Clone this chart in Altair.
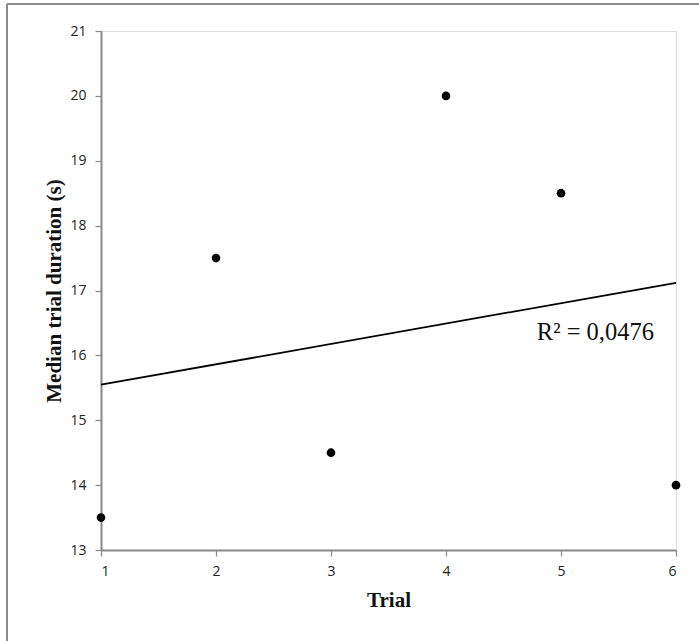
import altair as alt
import pandas as pd
import numpy as np

trial = [1, 2, 3, 4, 5, 6]
median_duration = [13.5, 17.5, 14.5, 20.0, 18.5, 14.0]
x_ticks = [1, 2, 3, 4, 5, 6]
y_ticks = [13, 14, 15, 16, 17, 18, 19, 20, 21]

# R² of the linear fit, computed from the data
xa = np.array(trial, dtype=float)
ya = np.array(median_duration, dtype=float)
r = np.corrcoef(xa, ya)[0, 1]
r2_text = "R² = " + f"{r*r:.4f}".replace(".", ",")

label_x = [4.79]
label_y = [16.24]

df = pd.DataFrame({"Trial": trial, "Duration": median_duration})
lab = pd.DataFrame({"x": label_x, "y": label_y, "t": [r2_text]})

W, H = 575, 519

xs = alt.Scale(domain=[1, 6], nice=False, zero=False)
ys = alt.Scale(domain=[13, 21], nice=False, zero=False)

common = dict(grid=False, format="d",
              labelFont="Open Sans", labelFontSize=14, labelColor="#222222",
              tickSize=6, tickColor="#888888", tickWidth=1.2,
              domainColor="#888888", domainWidth=2,
              titleFont="Liberation Serif", titleFontSize=21, titleFontWeight="bold",
              titleColor="#111111")
xaxis = alt.Axis(values=x_ticks, title="Trial", labelPadding=8, titlePadding=11, **common)
yaxis = alt.Axis(values=y_ticks, title="Median trial duration (s)", labelPadding=9,
                 titlePadding=5, **common)

points = alt.Chart(df).mark_circle(size=75, color="black", opacity=1).encode(
    x=alt.X("Trial:Q", scale=xs, axis=xaxis),
    y=alt.Y("Duration:Q", scale=ys, axis=yaxis),
)

trend = alt.Chart(df).transform_regression(
    "Trial", "Duration", method="linear", extent=[1, 6]
).mark_line(color="black", strokeWidth=1.8).encode(
    x=alt.X("Trial:Q", scale=xs),
    y=alt.Y("Duration:Q", scale=ys),
)

text = alt.Chart(lab).mark_text(
    font="Liberation Serif", fontSize=24.5, align="left", baseline="alphabetic", color="#111111"
).encode(
    x=alt.X("x:Q", scale=xs),
    y=alt.Y("y:Q", scale=ys),
    text="t:N",
)

# outer frame of the figure
frame_color = "#8a8a8a"
frame_top = alt.Chart(df).mark_rule(color=frame_color, strokeWidth=1.5).encode(
    x=alt.value(-94), x2=alt.value(W + 40), y=alt.value(-27)
)
frame_left = alt.Chart(df).mark_rule(color=frame_color, strokeWidth=1.5).encode(
    x=alt.value(-94), y=alt.value(-27), y2=alt.value(H + 120)
)

chart = alt.layer(frame_top, frame_left, trend, points, text).properties(
    width=W, height=H,
    autosize=alt.AutoSizeParams(type="none"),
    padding={"left": 101, "top": 31, "right": 23, "bottom": 91},
).configure_view(
    stroke="#8a8a8a", strokeWidth=2
).configure(background="white")

chart.save("out.html", embed_options={"renderer": "svg", "actions": False})
